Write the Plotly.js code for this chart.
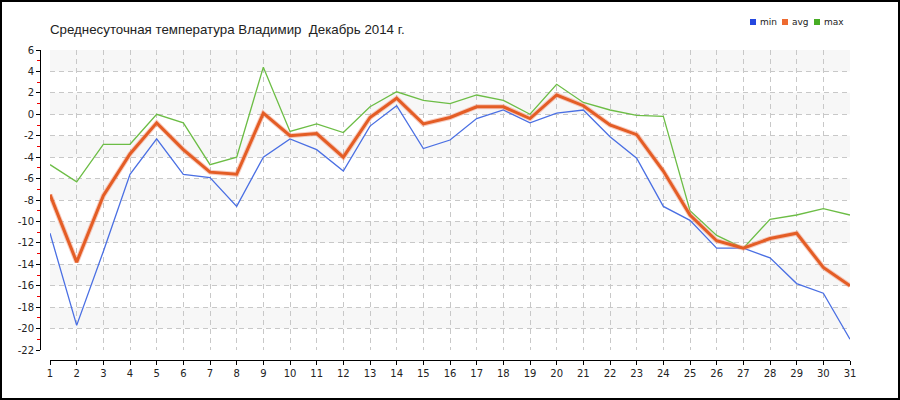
<!DOCTYPE html>
<html>
<head>
<meta charset="utf-8">
<script src="https://cdn.plot.ly/plotly-3.0.1.min.js"></script>
<style>html,body{margin:0;padding:0;background:#fff;}#chart{width:900px;height:400px;}</style>
</head>
<body>
<div id="chart"></div>
<script>
const days = [1,2,3,4,5,6,7,8,9,10,11,12,13,14,15,16,17,18,19,20,21,22,23,24,25,26,27,28,29,30,31];
const tminVals = [-11.1,-19.7,-12.8,-5.6,-2.3,-5.6,-5.9,-8.6,-4.0,-2.3,-3.3,-5.3,-1.1,0.8,-3.2,-2.4,-0.4,0.4,-0.8,0.1,0.4,-2.1,-4.1,-8.6,-9.9,-12.5,-12.5,-13.4,-15.8,-16.7,-21.0];
const tavgVals = [-7.5,-13.8,-7.6,-3.7,-0.8,-3.3,-5.4,-5.6,0.1,-2.0,-1.8,-4.0,-0.3,1.5,-0.9,-0.3,0.7,0.7,-0.4,1.8,0.8,-1.0,-1.9,-5.3,-9.4,-11.8,-12.5,-11.6,-11.1,-14.3,-16.0];
const tmaxVals = [-4.7,-6.3,-2.8,-2.8,0.0,-0.8,-4.7,-4.0,4.4,-1.6,-0.9,-1.7,0.7,2.1,1.3,1.0,1.8,1.3,0.0,2.8,1.1,0.4,-0.1,-0.2,-9.0,-11.3,-12.5,-9.8,-9.4,-8.8,-9.4];
const seriesNames = ["min","avg","max"];
const yTicks = [6,4,2,0,-2,-4,-6,-8,-10,-12,-14,-16,-18,-20,-22];
const titleText = "Среднесуточная температура Владимир  Декабрь 2014 г.";

const colMin = "#4a6fe3", colAvg = "#e45d25", colMax = "#6cbd45";
const legCols = ["#2447e0","#ee6a30","#47ad24"];

// plot geometry (pixels)
const W = 900, H = 400, mL = 30, mR = 50, mT = 50, mB = 30;
const pw = W - mL - mR, ph = H - mT - mB;
const px = x => (x - mL) / pw;           // pixel -> paper x
const py = y => (H - mB - y) / ph;       // pixel -> paper y

const traces = [
  {x: days, y: tmaxVals, name: seriesNames[2], mode: "lines", line: {color: colMax, width: 1.3}, showlegend: false, hoverinfo: "x+y"},
  {x: days, y: tminVals, name: seriesNames[0], mode: "lines", line: {color: colMin, width: 1.3}, showlegend: false, hoverinfo: "x+y"},
  {x: days, y: tavgVals, name: seriesNames[1] + " halo", mode: "lines", line: {color: "rgba(240,140,110,0.45)", width: 5}, showlegend: false, hoverinfo: "skip"},
  {x: days, y: tavgVals, name: seriesNames[1], mode: "lines", line: {color: colAvg, width: 3}, showlegend: false, hoverinfo: "x+y"}
];

const shapes = [];
// alternating light bands
for (let i = 0; i + 1 < yTicks.length; i += 2) {
  shapes.push({type: "rect", xref: "x", yref: "y", x0: days[0], x1: days[days.length-1], y0: yTicks[i+1], y1: yTicks[i], fillcolor: "#f7f7f7", line: {width: 0}, layer: "below"});
}
// outer frame
shapes.push({type: "rect", xref: "paper", yref: "paper", x0: px(1), x1: px(899), y0: py(399), y1: py(1), line: {color: "#000", width: 2}, fillcolor: "rgba(0,0,0,0)"});

// legend squares + labels
const annotations = [];
const legX = [750, 782, 814];
seriesNames.forEach((n, i) => {
  shapes.push({type: "rect", xref: "paper", yref: "paper", xsizemode: "pixel", ysizemode: "pixel",
    xanchor: px(legX[i]), yanchor: py(22), x0: 0, x1: 6, y0: -3, y1: 3, fillcolor: legCols[i], line: {width: 0}});
  annotations.push({xref: "paper", yref: "paper", x: px(legX[i] + 8), y: py(22), xanchor: "left", yanchor: "middle",
    text: n, showarrow: false, font: {family: "DejaVu Sans, sans-serif", size: 9, color: "#222"}});
});

const layout = {
  width: W, height: H,
  margin: {l: mL, r: mR, t: mT, b: mB, pad: 0},
  paper_bgcolor: "#fff", plot_bgcolor: "#fff",
  title: {text: titleText, xref: "container", yref: "container", x: 50/W, y: 1 - 29/H, xanchor: "left", yanchor: "middle",
    font: {family: "Liberation Sans, Arial, sans-serif", size: 13.3, color: "#222"}},
  showlegend: false,
  xaxis: {
    domain: [px(50), 1], anchor: "free", position: py(360),
    range: [1, 31], tickmode: "array", tickvals: days, ticktext: days.map(String),
    showline: true, linecolor: "#000", linewidth: 1,
    ticks: "outside", ticklen: 4, tickcolor: "#000",
    showgrid: true, gridcolor: "#c8c8c8", griddash: "5px,4px", gridwidth: 1, zeroline: false,
    tickfont: {family: "DejaVu Sans, sans-serif", size: 10, color: "#222"}, fixedrange: true
  },
  yaxis: {
    domain: [py(350), py(50)], anchor: "free", position: px(40),
    range: [-22, 6], tickmode: "array", tickvals: yTicks, ticktext: yTicks.map(String),
    showline: true, linecolor: "#000", linewidth: 1,
    ticks: "outside", ticklen: 4, tickcolor: "#000",
    minor: {dtick: 1, tick0: -21, ticks: "outside", ticklen: 3, tickcolor: "#ee0000", showgrid: false},
    showgrid: true, gridcolor: "#c8c8c8", griddash: "5px,4px", gridwidth: 1, zeroline: false,
    tickfont: {family: "DejaVu Sans, sans-serif", size: 10, color: "#222"}, fixedrange: true
  },
  shapes: shapes,
  annotations: annotations
};

Plotly.newPlot("chart", traces, layout, {staticPlot: true, displayModeBar: false});
</script>
</body>
</html>
